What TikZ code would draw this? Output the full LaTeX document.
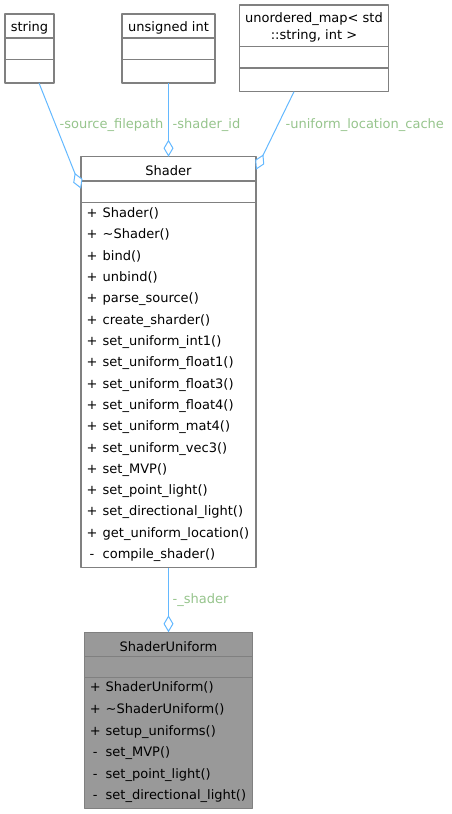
\documentclass[tikz,border=0pt]{standalone}
\usepackage{fontspec}
\setmainfont{DejaVu Sans}
\usetikzlibrary{arrows.meta}
\definecolor{boxline}{RGB}{128,128,128}
\definecolor{boxfill}{RGB}{153,153,153}
\definecolor{edgeblue}{RGB}{99,184,255}
\definecolor{edgetext}{RGB}{150,196,140}
\tikzset{
	classbox/.style={draw=boxline, line width=1.4pt, fill=white, inner sep=0pt, outer sep=0pt},
	title/.style={anchor=base, inner sep=0pt},
	sign/.style={anchor=base, inner sep=0pt},
	member/.style={anchor=base west, inner sep=0pt},
	usage/.style={draw=edgeblue, line width=1pt, {Diamond[open, fill=white, length=17pt, width=10pt]}-},
	role/.style={anchor=base west, inner sep=0pt, text=edgetext}
}
\begin{document}
\begin{tikzpicture}[x=1pt, y=-1pt, font=\fontsize{13}{15}\selectfont, line join=round]
			\useasboundingbox (0,0) rectangle (451,814);
			% used classes
			\node[classbox, minimum width=49pt, minimum height=69pt] (string) at (29.5,48.5) {};
			\node[classbox, minimum width=93pt, minimum height=69pt] (uint) at (168.5,48.5) {};
			\node[classbox, minimum width=149.4pt, minimum height=86.7pt] (umap) at (314,48.35) {};
			\draw[boxline, line width=1.4pt] ([yshift=-24pt]string.north west)--([yshift=-24pt]string.north east)
			([yshift=-45.3pt]string.north west)--([yshift=-45.3pt]string.north east)
			([yshift=-24pt]uint.north west)--([yshift=-24pt]uint.north east)
			([yshift=-45.3pt]uint.north west)--([yshift=-45.3pt]uint.north east)
			([yshift=-41.7pt]umap.north west)--([yshift=-41.7pt]umap.north east)
			([yshift=-63pt]umap.north west)--([yshift=-63pt]umap.north east);
			\node[title] (stringname) at (29.5,31) {string};
			\node[title] (uintname) at (168.5,31) {unsigned int};
			\node[title] (umapname1) at (314,22.5) {unordered\_map< std};
			\node[title] (umapname2) at (314,39.5) {::string, int >};
			% Shader
			\node[classbox, minimum width=175pt, minimum height=411pt] (shader) at (168.5,362.2) {};
			\draw[boxline, line width=1.4pt] ([yshift=-24.3pt]shader.north west)--([yshift=-24.3pt]shader.north east)
			([yshift=-45.6pt]shader.north west)--([yshift=-45.6pt]shader.north east);
			\node[title] (shadername) at (168.5,175.3) {Shader};
			\foreach \s/\m [count=\i from 0] in {+/Shader(), +/\textasciitilde Shader(), +/bind(), +/unbind(),
				+/parse\_source(), +/create\_sharder(), +/set\_uniform\_int1(), +/set\_uniform\_float1(),
				+/set\_uniform\_float3(), +/set\_uniform\_float4(), +/set\_uniform\_mat4(), +/set\_uniform\_vec3(),
				+/set\_MVP(), +/set\_point\_light(), +/set\_directional\_light(), +/get\_uniform\_location(),
				-/compile\_shader()}
			{
				\node[sign] (shadersign\i) at (92,217.6+21.31*\i) {\s};
				\node[member] (shadermember\i) at (102.5,217.6+21.31*\i) {\m};
			}
			% ShaderUniform
			\node[classbox, fill=boxfill, minimum width=168.4pt, minimum height=176pt] (su) at (168.5,720.3) {};
			\draw[boxline, line width=1.4pt] ([yshift=-24.4pt]su.north west)--([yshift=-24.4pt]su.north east)
			([yshift=-45.4pt]su.north west)--([yshift=-45.4pt]su.north east);
			\node[title] (suname) at (168.5,651.3) {ShaderUniform};
			\foreach \s/\m [count=\i from 0] in {+/ShaderUniform(), +/\textasciitilde ShaderUniform(), +/setup\_uniforms(),
				-/set\_MVP(), -/set\_point\_light(), -/set\_directional\_light()}
			{
				\node[sign] (susign\i) at (95.3,691.8+21.6*\i) {\s};
				\node[member] (sumember\i) at (105.5,691.8+21.6*\i) {\m};
			}
			% usage edges
			\draw[usage] ([yshift=-32pt]shader.north west)--([xshift=9.5pt]string.south);
			\draw[usage] (shader.north)--(uint.south);
			\draw[usage] ([yshift=-13pt]shader.north east)--([xshift=-20pt]umap.south);
			\draw[usage] (su.north)--(shader.south);
			\node[role] (rsource) at (59.5,128) {-source\_filepath};
			\node[role] (rid) at (172.5,128) {-shader\_id};
			\node[role] (rcache) at (285.5,128) {-uniform\_location\_cache};
			\node[role] (rshader) at (172.5,603.3) {-\_shader};
			\end{tikzpicture}
\end{document}
